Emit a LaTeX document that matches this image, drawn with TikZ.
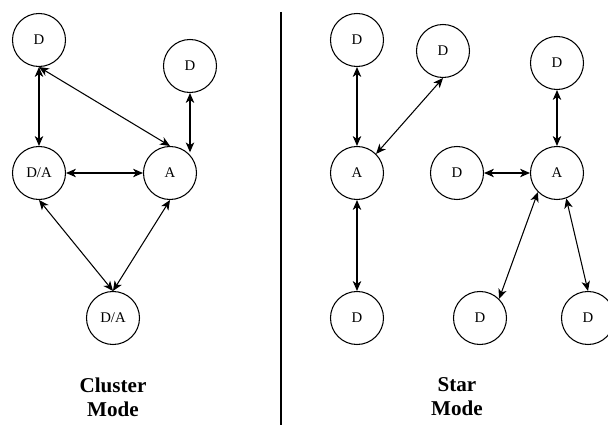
\documentclass[tikz,border=0pt]{standalone}
\usepackage{fontspec}
\setmainfont{Liberation Serif}[BoldFont={Liberation Serif Bold}]
\usetikzlibrary{arrows.meta}

\begin{document}
\begin{tikzpicture}[x=0.025cm, y=-0.025cm,
  dev/.style={draw, circle, line width=0.75pt, minimum size=1.325cm, inner sep=0pt,
    font=\fontsize{10.5}{12}\selectfont},
  link/.style={line width=0.75pt,
    {Stealth[length=7pt,width=6pt,inset=2pt]}-{Stealth[length=7pt,width=6pt,inset=2pt]}},
  modelabel/.style={align=center, font=\fontsize{15}{17}\selectfont\bfseries}]
\useasboundingbox (0,0) rectangle (608,425);
% cluster mode
\node[dev] (cD1) at (39,40) {D};
\node[dev] (cD2) at (190,66) {D};
\node[dev] (cDA1) at (39,173) {D/A};
\node[dev] (cA) at (170,173) {A};
\node[dev] (cDA2) at (113,318) {D/A};
\node[modelabel] (cLabel) at (113,397) {Cluster\\Mode};
\draw[link] (cD1.south) -- (cDA1.north);
\draw[link] (cD1.south) -- (cA.north);
\draw[link] (cD2.south) -- (cD2.south |- cA.50);
\draw[link] (cDA1.east) -- (cA.west);
\draw[link] (cDA1.south) -- (cDA2.north);
\draw[link] (cA.south) -- (cDA2.north);
% divider
\draw[line width=0.75pt] (281,12) -- (281,425);
% star mode
\node[dev] (sD1) at (357,40) {D};
\node[dev] (sD2) at (443,51) {D};
\node[dev] (sA1) at (357,173) {A};
\node[dev] (sD3) at (357,318) {D};
\node[dev] (sD4) at (557,63) {D};
\node[dev] (sD5) at (457,173) {D};
\node[dev] (sA2) at (557,173) {A};
\node[dev] (sD6) at (480,318) {D};
\node[dev] (sD7) at (588,318) {D};
\node[modelabel] (sLabel) at (457,397) {Star\\Mode};
\draw[link] (sD1.south) -- (sA1.north);
\draw[link] (sA1.45) -- (sD2.south);
\draw[link] (sA1.south) -- (sD3.north);
\draw[link] (sD4.south) -- (sA2.north);
\draw[link] (sD5.east) -- (sA2.west);
\draw[link] (sA2.225) -- (sD6.45);
\draw[link] (sA2.290) -- (sD7.north);
\end{tikzpicture}
\end{document}
